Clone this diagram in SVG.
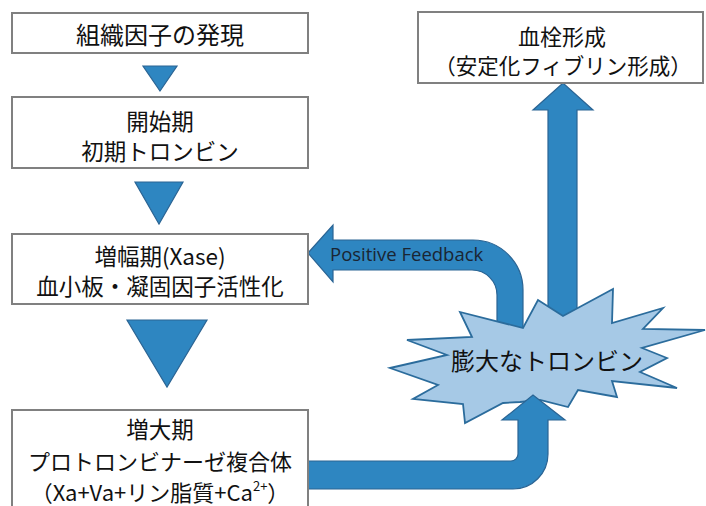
<svg xmlns="http://www.w3.org/2000/svg" width="706" height="506" viewBox="0 0 706 506">
<style>
.box{fill:#ffffff;stroke:#808080;stroke-width:2}
.tri{fill:#2e86c1;stroke:#2a6494;stroke-width:1.2}
.arr{fill:#2e86c1;stroke:#2a6494;stroke-width:1.2}
.burst{fill:#a6c9e6;stroke:#2b6c9c;stroke-width:1.8}
.jp{font-family:"Noto Sans CJK JP","Noto Sans",sans-serif;font-size:22.5px;fill:#111;text-anchor:middle;dominant-baseline:central}
.en{font-family:"Open Sans","Liberation Sans",sans-serif;font-size:18.5px;fill:#1a2533}
</style>
<rect width="706" height="506" fill="#ffffff"/>
<g id="connectors">
<polygon class="tri" points="143,66 177,66 160,91"/>
<polygon class="tri" points="135,182 183,182 159,224"/>
<polygon class="tri" points="127,320 207,320 167,387"/>
<path id="feedback" class="arr" d="M308,253 L333,225 L333,240 L473,240 A50,50 0 0 1 523,290 L523,335 L497,335 L497,295 A25,25 0 0 0 472,270 L333,270 L333,282 Z"/>
<path id="up" class="arr" d="M548,320 L548,110 L533,110 L563,83 L593,110 L577,110 L577,320 Z"/>
</g>
<g id="burst">
<polygon class="burst" points="390,368 447,355 407,340 472,337 460,312 523,328 538,300 563,316 613,289 612,323 663,308 643,329 705,330 642,348 667,358 640,372 677,388 612,381 617,397 578,390 568,407 540,400 520,402 503,403 465,423 463,404 413,399 438,385"/>
<text class="jp" x="547" y="359" style="font-size:24px">膨大なトロンビン</text>
</g>
<g id="connectors-front">
<path id="bottom" class="arr" d="M308,461 L511,461 A7,7 0 0 0 518,454 L518,420 L502,420 L533,395 L565,420 L548,420 L548,454 A35,35 0 0 1 513,489 L308,489 Z"/>
<text class="en" x="330" y="261">Positive Feedback</text>
</g>
<g id="n1">
<rect class="box" x="12" y="13" width="296" height="40"/>
<text class="jp" x="160" y="33" style="font-size:24px">組織因子の発現</text>
</g>
<g id="n2">
<rect class="box" x="12" y="97" width="296" height="71"/>
<text class="jp" x="160" y="120">開始期</text>
<text class="jp" x="160" y="150">初期トロンビン</text>
</g>
<g id="n3">
<rect class="box" x="12" y="234" width="296" height="70"/>
<text class="jp" x="160" y="255">増幅期(Xase)</text>
<text class="jp" x="160" y="285">血小板・凝固因子活性化</text>
</g>
<g id="n4">
<rect class="box" x="12" y="410" width="296" height="110"/>
<text class="jp" x="160" y="428">増大期</text>
<text class="jp" x="160" y="460" style="font-size:22px">プロトロンビナーゼ複合体</text>
<text class="jp" x="160" y="491" style="font-size:22px">（Xa+Va+リン脂質+Ca<tspan font-size="13" dy="-6">2+</tspan><tspan dy="6">）</tspan></text>
</g>
<g id="n5">
<rect class="box" x="418" y="12" width="285" height="71"/>
<text class="jp" x="562" y="35" style="font-size:22px">血栓形成</text>
<text class="jp" x="563" y="64" style="font-size:21.5px">（安定化フィブリン形成）</text>
</g>
</svg>
